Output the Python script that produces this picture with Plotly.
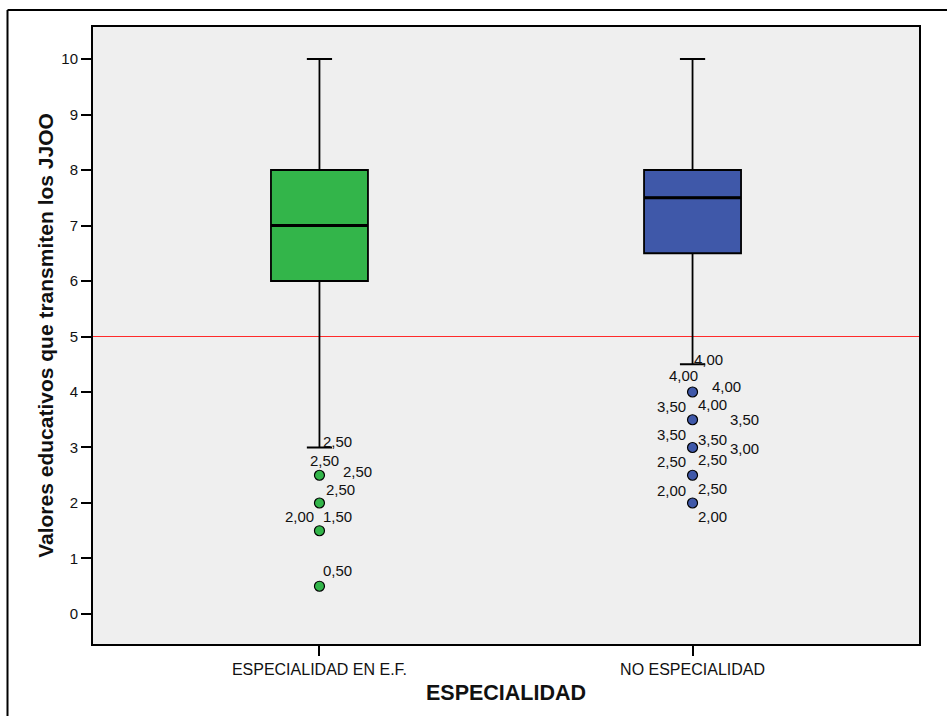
import plotly.graph_objects as go

# ---- data ----
categories = ["ESPECIALIDAD EN E.F.", "NO ESPECIALIDAD"]
q1 = [6.0, 6.5]
median = [7.0, 7.5]
q3 = [8.0, 8.0]
lower_whisker = [3.0, 4.5]
upper_whisker = [10.0, 10.0]

outliers_g1 = [2.5, 2.0, 1.5, 0.5]
outliers_g2 = [4.0, 3.5, 3.0, 2.5, 2.0]

# outlier case labels (text, value level they sit at)
labels_g1_text = ["2,50", "2,50", "2,50", "2,50", "2,00", "1,50", "0,50"]
labels_g1_y = [3.10, 2.77, 2.56, 2.25, 1.75, 1.75, 0.79]
labels_g2_text = ["4,00", "4,00", "4,00", "3,50", "4,00", "3,50", "3,50",
                  "3,50", "3,00", "2,50", "2,50", "2,00", "2,50", "2,00"]
labels_g2_y = [4.59, 4.29, 4.10, 3.74, 3.77, 3.50, 3.24,
               3.14, 2.99, 2.74, 2.79, 2.23, 2.26, 1.75]

reference_value = 5
y_ticks = list(range(0, 11))

# ---- styling / layout (pixel offsets of labels) ----
labels_g1_dx = [18, 5, 38, 21, -20, 18, 18]
labels_g2_dx = [16, -9, 34, -21, 20, 52, -21, 20, 52, -21, 20, -21, 20, 20]
colors = ["#33b54a", "#3f58a9"]
FONT = "Arial, Liberation Sans, Helvetica, sans-serif"

fig = go.Figure()

for i, cat in enumerate(categories):
    fig.add_trace(go.Box(
        x=[cat], q1=[q1[i]], median=[median[i]], q3=[q3[i]],
        lowerfence=[lower_whisker[i]], upperfence=[upper_whisker[i]],
        fillcolor=colors[i], line=dict(color="black", width=1.8),
        width=0.26, whiskerwidth=0.26, boxpoints=False, showlegend=False,
        hoverinfo="skip",
    ))
    # thicker median line
    fig.add_trace(go.Box(
        x=[cat], q1=[median[i]], median=[median[i]], q3=[median[i]],
        lowerfence=[median[i]], upperfence=[median[i]],
        fillcolor="rgba(0,0,0,0)", line=dict(color="black", width=3),
        width=0.26, whiskerwidth=0, boxpoints=False, showlegend=False,
        hoverinfo="skip",
    ))

fig.add_trace(go.Scatter(
    x=[categories[0]] * len(outliers_g1), y=outliers_g1, mode="markers",
    marker=dict(size=10, color=colors[0], line=dict(color="black", width=1.2)),
    showlegend=False, hoverinfo="skip"))
fig.add_trace(go.Scatter(
    x=[categories[1]] * len(outliers_g2), y=outliers_g2, mode="markers",
    marker=dict(size=10, color=colors[1], line=dict(color="black", width=1.2)),
    showlegend=False, hoverinfo="skip"))

annots = []
for t, y, dx in zip(labels_g1_text, labels_g1_y, labels_g1_dx):
    annots.append(dict(x=categories[0], y=y, text=t, xshift=dx, showarrow=False,
                       xanchor="center", yanchor="middle",
                       font=dict(family=FONT, size=15, color="#111")))
for t, y, dx in zip(labels_g2_text, labels_g2_y, labels_g2_dx):
    annots.append(dict(x=categories[1], y=y, text=t, xshift=dx, showarrow=False,
                       xanchor="center", yanchor="middle",
                       font=dict(family=FONT, size=15, color="#111")))

W, H = 947, 716
L, R, T, B = 93, 28, 27, 72
pw, ph = W - L - R, H - T - B

frame_x0 = (7.5 - L) / pw
frame_x1 = (W + 10 - L) / pw
frame_ytop = (H - B - 10) / ph
frame_ybot = -(B + 20) / ph

shapes = [
    dict(type="line", xref="paper", x0=0, x1=1, yref="y",
         y0=reference_value, y1=reference_value,
         line=dict(color="#ff2a2a", width=1.2), layer="below"),
    dict(type="line", xref="paper", yref="paper",
         x0=frame_x0, x1=frame_x0, y0=frame_ybot, y1=frame_ytop,
         line=dict(color="black", width=2)),
    dict(type="line", xref="paper", yref="paper",
         x0=frame_x0, x1=frame_x1, y0=frame_ytop, y1=frame_ytop,
         line=dict(color="black", width=2)),
]

fig.update_layout(
    width=W, height=H,
    margin=dict(l=L, r=R, t=T, b=B),
    paper_bgcolor="white", plot_bgcolor="#efefef",
    font=dict(family=FONT, color="#111"),
    annotations=annots, shapes=shapes,
    xaxis=dict(
        type="category", categoryorder="array", categoryarray=categories,
        range=[-0.607, 1.607], showgrid=False, zeroline=False,
        showline=True, linecolor="black", linewidth=2, mirror=True,
        ticks="outside", ticklen=10, tickcolor="black", tickwidth=2,
        tickfont=dict(size=16),
        title=dict(text="<b>ESPECIALIDAD</b>", font=dict(size=21.5), standoff=8),
    ),
    yaxis=dict(
        range=[-0.541, 10.577], tickvals=y_ticks, showgrid=False, zeroline=False,
        showline=True, linecolor="black", linewidth=2, mirror=True,
        ticks="outside", ticklen=10, tickcolor="black", tickwidth=2,
        tickfont=dict(size=15),
        title=dict(text="<b>Valores educativos que transmiten los JJOO</b>",
                   font=dict(size=21), standoff=2),
    ),
)

fig.write_html(
    "out.html",
    config={"displayModeBar": False},
    post_script="document.body.style.margin='0';document.body.style.overflow='hidden';",
)
